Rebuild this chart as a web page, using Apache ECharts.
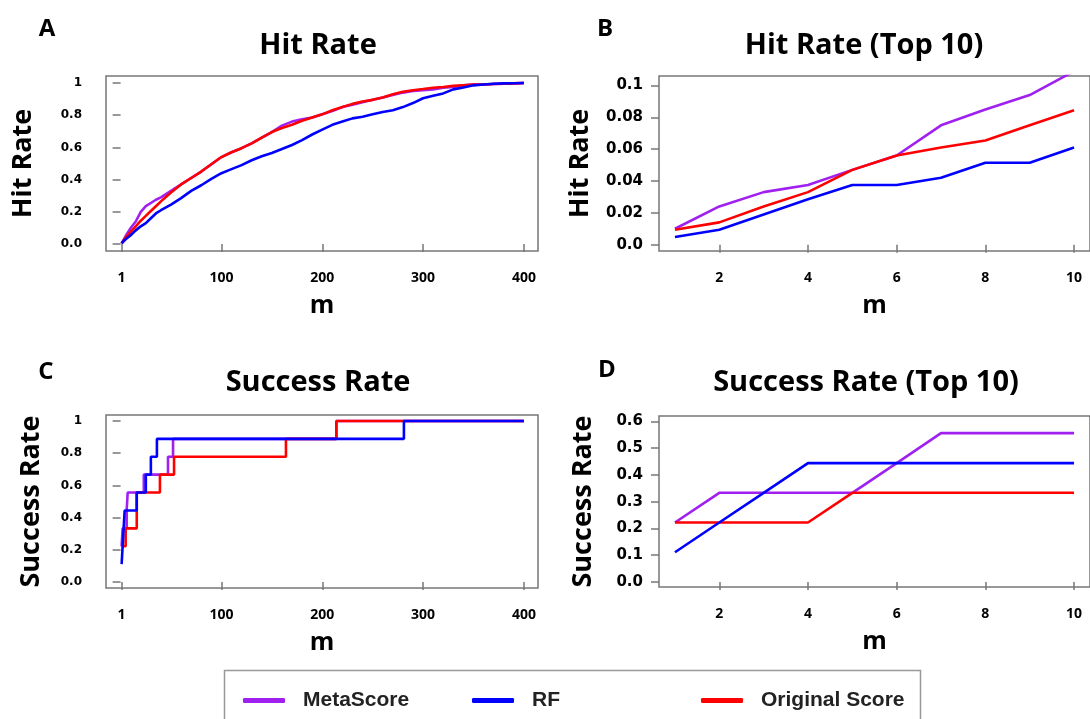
<!DOCTYPE html>
<html>
<head>
<meta charset="utf-8">
<script src="https://cdn.jsdelivr.net/npm/echarts@6/dist/echarts.min.js"></script>
<style>
  html, body { margin: 0; padding: 0; background: #fff; }
  #main { width: 1090px; height: 719px; }
</style>
</head>
<body>
<div id="main"></div>
<script>
// series names
var seriesNames = ['MetaScore', 'RF', 'Original Score'];

// A: hit rate over m = 1..400
var mHit = [1, 5, 10, 15, 20, 25, 30, 35, 40, 50, 60, 70, 80, 90, 100, 110, 120, 130, 140, 150, 160, 170, 180, 190, 200,
  210, 220, 230, 240, 250, 260, 270, 280, 290, 300, 310, 320, 330, 340, 350, 360, 370, 380, 390, 400];
var hitMeta = [0.005, 0.05, 0.1, 0.14, 0.2, 0.235, 0.255, 0.275, 0.29, 0.33, 0.37, 0.41, 0.45, 0.495, 0.54, 0.57, 0.595, 0.625, 0.66, 0.695, 0.735, 0.76, 0.775, 0.785, 0.805,
  0.825, 0.85, 0.865, 0.88, 0.895, 0.91, 0.925, 0.94, 0.95, 0.955, 0.96, 0.97, 0.975, 0.985, 0.99, 0.99, 0.993, 0.995, 0.997, 1.0];
var hitRF = [0.005, 0.03, 0.055, 0.085, 0.11, 0.13, 0.16, 0.19, 0.21, 0.245, 0.285, 0.33, 0.365, 0.405, 0.44, 0.465, 0.49, 0.52, 0.545, 0.565, 0.59, 0.615, 0.645, 0.68, 0.71,
  0.74, 0.76, 0.78, 0.79, 0.805, 0.82, 0.83, 0.85, 0.875, 0.905, 0.92, 0.935, 0.96, 0.972, 0.985, 0.99, 0.995, 0.997, 0.998, 1.0];
var hitOrig = [0.005, 0.04, 0.075, 0.11, 0.145, 0.175, 0.205, 0.235, 0.265, 0.32, 0.37, 0.41, 0.45, 0.495, 0.54, 0.57, 0.595, 0.625, 0.66, 0.695, 0.72, 0.74, 0.765, 0.785, 0.805,
  0.83, 0.85, 0.87, 0.885, 0.895, 0.91, 0.93, 0.945, 0.955, 0.962, 0.97, 0.975, 0.982, 0.986, 0.99, 0.99, 0.993, 0.995, 0.997, 1.0];

// B: hit rate, top 10
var mTop = [1, 2, 3, 4, 5, 6, 7, 8, 9, 10];
var hitTopMeta = [0.010, 0.024, 0.033, 0.0375, 0.047, 0.056, 0.075, 0.085, 0.094, 0.109];
var hitTopRF = [0.0048, 0.0094, 0.019, 0.0285, 0.0375, 0.0375, 0.042, 0.0515, 0.0515, 0.061];
var hitTopOrig = [0.0094, 0.014, 0.024, 0.033, 0.047, 0.056, 0.061, 0.0655, 0.075, 0.0845];

// C: success rate, steps (m where value starts, value)
var succMetaM = [1, 2, 6, 7, 23, 47, 52, 214, 400];
var succMetaV = [0.222, 0.333, 0.444, 0.556, 0.667, 0.778, 0.889, 1, 1];
var succRFM = [1, 2, 3, 4, 16, 25, 30, 36, 281, 400];
var succRFV = [0.111, 0.222, 0.333, 0.444, 0.556, 0.667, 0.778, 0.889, 1, 1];
var succOrigM = [1, 5, 16, 39, 53, 164, 214, 400];
var succOrigV = [0.222, 0.333, 0.556, 0.667, 0.778, 0.889, 1, 1];

// D: success rate, top 10
var succTopMeta = [0.222, 0.333, 0.333, 0.333, 0.333, 0.444, 0.556, 0.556, 0.556, 0.556];
var succTopRF = [0.111, 0.222, 0.333, 0.444, 0.444, 0.444, 0.444, 0.444, 0.444, 0.444];
var succTopOrig = [0.222, 0.222, 0.222, 0.222, 0.333, 0.333, 0.333, 0.333, 0.333, 0.333];

// ticks
var xTicksAll = [1, 100, 200, 300, 400];
var xTicksTop = [2, 4, 6, 8, 10];
var yTicksRate = [0, 0.2, 0.4, 0.6, 0.8, 1];
var yLabelsRate = ['0.0', '0.2', '0.4', '0.6', '0.8', '1'];
var yTicksHitTop = [0, 0.02, 0.04, 0.06, 0.08, 0.1];
var yLabelsHitTop = ['0.0', '0.02', '0.04', '0.06', '0.08', '0.1'];
var yTicksSuccTop = [0, 0.1, 0.2, 0.3, 0.4, 0.5, 0.6];
var yLabelsSuccTop = ['0.0', '0.1', '0.2', '0.3', '0.4', '0.5', '0.6'];

var colors = ['#A020F0', '#0000FF', '#FF0000'];
var titleFont = '"Open Sans", "DejaVu Sans", sans-serif';

function zip(xs, ys) {
  return xs.map(function (x, i) { return [x, ys[i]]; });
}
function labelFn(ticks, labels) {
  return function (v) {
    for (var i = 0; i < ticks.length; i++) {
      if (Math.abs(ticks[i] - v) < 1e-9) return labels[i];
    }
    return '';
  };
}

function xAxisOf(gi, min, max, ticks) {
  return {
    type: 'value', gridIndex: gi, min: min, max: max,
    name: 'm', nameLocation: 'middle', nameGap: 42,
    nameTextStyle: { fontFamily: titleFont, fontWeight: 'bold', fontSize: 25, color: '#000' },
    axisLine: { show: false },
    splitLine: { show: false },
    axisTick: { show: true, inside: false, length: 8, customValues: ticks, lineStyle: { color: '#777', width: 1.5 } },
    axisLabel: { customValues: ticks, margin: 20, color: '#000', fontFamily: titleFont, fontWeight: 'bold', fontSize: 14 }
  };
}
function yAxisOf(gi, min, max, ticks, labels, name, gap, labMargin, labSize) {
  return {
    type: 'value', gridIndex: gi, min: min, max: max,
    name: name, nameLocation: 'middle', nameGap: gap, nameRotate: 90,
    nameTextStyle: { fontFamily: titleFont, fontWeight: 'bold', fontSize: 27, color: '#000' },
    axisLine: { show: false },
    splitLine: { show: false },
    axisTick: { show: true, inside: false, length: 8, customValues: ticks, lineStyle: { color: '#777', width: 1.5 } },
    axisLabel: { customValues: ticks, margin: labMargin, color: '#000', fontFamily: '"DejaVu Sans", sans-serif',
      fontWeight: 'bold', fontSize: labSize, formatter: labelFn(ticks, labels) }
  };
}
function lineSeries(name, idx, gi, data, step) {
  return {
    name: name, type: 'line', xAxisIndex: gi, yAxisIndex: gi,
    data: data, step: step || false, showSymbol: false, symbol: 'none',
    lineStyle: { color: colors[idx], width: 2.6 }, itemStyle: { color: colors[idx] },
    clip: true, silent: true, z: idx === 1 ? 4 : (idx === 2 ? 3 : 2)
  };
}
function gridBox(left, top, width, height) {
  return { left: left, top: top, width: width, height: height, show: true, borderColor: '#777', borderWidth: 1.5, containLabel: false };
}
function panelTitle(text, x, y, size) {
  return { text: text, left: x, top: y, textAlign: 'center',
    textStyle: { fontFamily: titleFont, fontWeight: 'bold', fontSize: size, color: '#000' } };
}
function legendOf(idx, left) {
  return {
    data: [seriesNames[idx]], left: left, top: 685, icon: 'roundRect', itemWidth: 42, itemHeight: 5,
    textStyle: { fontFamily: '"Liberation Sans", Arial, sans-serif', fontWeight: 'bold', fontSize: 21, color: '#222', padding: [0, 0, 0, 13] },
    selectedMode: false
  };
}

var chart = echarts.init(document.getElementById('main'), null, { renderer: 'canvas' });

var option = {
  backgroundColor: '#fff',
  animation: false,
  title: [
    panelTitle('A', 42, 12, 24),
    panelTitle('B', 600, 12, 24),
    panelTitle('C', 41, 355, 24),
    panelTitle('D', 602, 353, 24),
    panelTitle('Hit Rate', 313, 26, 29),
    panelTitle('Hit Rate (Top 10)', 859, 26, 29),
    panelTitle('Success Rate', 313, 363, 29),
    panelTitle('Success Rate (Top 10)', 861, 363, 29)
  ],
  grid: [
    gridBox(106, 76, 432, 175),
    gridBox(659, 76, 436, 175),
    gridBox(106, 415, 432, 173),
    gridBox(659, 416, 436, 171)
  ],
  xAxis: [
    xAxisOf(0, -14.5, 414, xTicksAll),
    xAxisOf(1, 0.64, 10.36, xTicksTop),
    xAxisOf(2, -14.5, 414, xTicksAll),
    xAxisOf(3, 0.64, 10.36, xTicksTop)
  ],
  yAxis: [
    yAxisOf(0, -0.043, 1.043, yTicksRate, yLabelsRate, 'Hit Rate', 69, 24, 12),
    yAxisOf(1, -0.004, 0.106, yTicksHitTop, yLabelsHitTop, 'Hit Rate', 65, 16, 15),
    yAxisOf(2, -0.037, 1.037, yTicksRate, yLabelsRate, 'Success Rate', 61, 24, 12),
    yAxisOf(3, -0.019, 0.62, yTicksSuccTop, yLabelsSuccTop, 'Success Rate', 62, 16, 15)
  ],
  legend: [legendOf(0, 238), legendOf(1, 467), legendOf(2, 696)],
  graphic: [{
    type: 'rect', left: 222, top: 668, shape: { width: 696, height: 70 },
    style: { fill: 'none', stroke: '#999', lineWidth: 1.5 }, silent: true
  }],
  series: [
    lineSeries(seriesNames[0], 0, 0, zip(mHit, hitMeta)),
    lineSeries(seriesNames[2], 2, 0, zip(mHit, hitOrig)),
    lineSeries(seriesNames[1], 1, 0, zip(mHit, hitRF)),

    lineSeries(seriesNames[0], 0, 1, zip(mTop, hitTopMeta)),
    lineSeries(seriesNames[2], 2, 1, zip(mTop, hitTopOrig)),
    lineSeries(seriesNames[1], 1, 1, zip(mTop, hitTopRF)),

    lineSeries(seriesNames[0], 0, 2, zip(succMetaM, succMetaV), 'end'),
    lineSeries(seriesNames[2], 2, 2, zip(succOrigM, succOrigV), 'end'),
    lineSeries(seriesNames[1], 1, 2, zip(succRFM, succRFV), 'end'),

    lineSeries(seriesNames[0], 0, 3, zip(mTop, succTopMeta)),
    lineSeries(seriesNames[2], 2, 3, zip(mTop, succTopOrig)),
    lineSeries(seriesNames[1], 1, 3, zip(mTop, succTopRF))
  ]
};

chart.setOption(option);
</script>
</body>
</html>
